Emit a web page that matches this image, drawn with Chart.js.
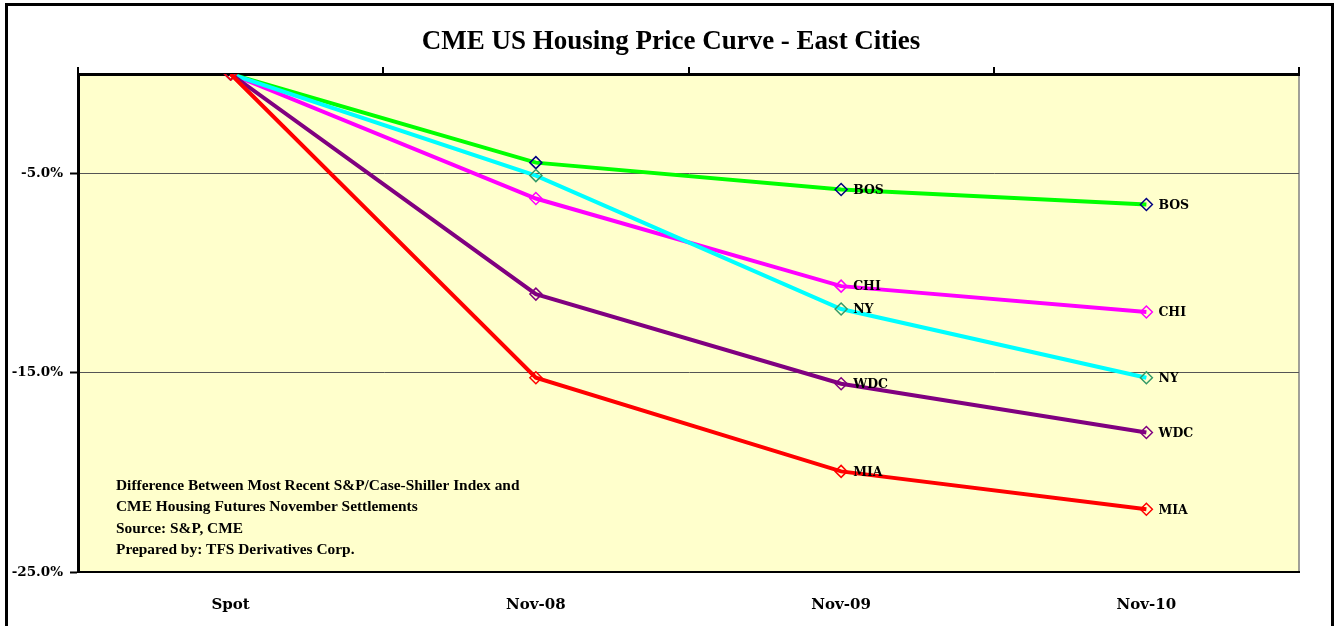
<!DOCTYPE html>
<html>
<head>
<meta charset="utf-8">
<script src="https://cdn.jsdelivr.net/npm/chart.js@4.4.1/dist/chart.umd.min.js"></script>
<style>
    html, body { margin: 0; padding: 0; background: #fff; }
    #wrap { position: relative; width: 1339px; height: 626px; }
    #frame { position: absolute; left: 5px; top: 3px; width: 1329px; height: 640px; border: 3px solid #000; box-sizing: border-box; pointer-events: none; }
</style>
</head>
<body>
<div id="wrap">
    <canvas id="chart" width="1339" height="626"></canvas>
    <div id="frame"></div>
</div>
<script>
// 차트 데이터
const categories = ['Spot', 'Nov-08', 'Nov-09', 'Nov-10'];
const bosValues = [0, -4.45, -5.8, -6.55];
const nyValues = [0, -5.1, -11.8, -15.25];
const chiValues = [0, -6.25, -10.65, -11.95];
const wdcValues = [0, -11.05, -15.55, -18.0];
const miaValues = [0, -15.25, -19.95, -21.85];
const yTicks = [-25, -15, -5];
const noteLines = [
    'Difference Between Most Recent S&P/Case-Shiller Index and',
    'CME Housing Futures November Settlements',
    'Source: S&P, CME',
    'Prepared by: TFS Derivatives Corp.'
];

const serif = '"Liberation Serif", "DejaVu Serif", serif';
const wideSerif = '"DejaVu Serif", "Liberation Serif", serif';

function makeSeries(label, data, lineColor, markerColor) {
    return {
        label: label,
        data: data,
        borderColor: lineColor,
        borderWidth: 4,
        tension: 0,
        pointStyle: 'rectRot',
        pointRadius: 6,
        pointBorderWidth: 1.5,
        pointBorderColor: markerColor,
        pointBackgroundColor: 'rgba(0,0,0,0)',
        fill: false
    };
}

// 배경, 제목, 라벨 그리기
const decorPlugin = {
    id: 'decor',
    beforeDraw(chart) {
        const { ctx, chartArea: a } = chart;
        ctx.save();
        ctx.fillStyle = '#FFFFCC';
        ctx.fillRect(a.left, a.top, a.right - a.left, a.bottom - a.top);
        ctx.strokeStyle = '#808080';
        ctx.lineWidth = 1.5;
        ctx.beginPath();
        ctx.moveTo(a.right, a.top);
        ctx.lineTo(a.right, a.bottom);
        ctx.stroke();
        ctx.restore();
    },
    afterDraw(chart) {
        const { ctx } = chart;
        ctx.save();
        ctx.fillStyle = '#000';
        ctx.textAlign = 'center';
        ctx.textBaseline = 'middle';
        ctx.font = 'bold 27px ' + serif;
        ctx.fillText('CME US Housing Price Curve - East Cities', 671, 42);

        // 주석 (가로로 살짝 늘림)
        ctx.textAlign = 'left';
        ctx.save();
        ctx.translate(116, 0);
        ctx.scale(1.1, 1);
        ctx.font = 'bold 14px ' + serif;
        noteLines.forEach((line, i) => {
            ctx.fillText(line, 0, 486 + i * 21.5);
        });
        ctx.restore();

        ctx.font = 'bold 12.5px ' + wideSerif;
        chart.data.datasets.forEach((ds, di) => {
            const meta = chart.getDatasetMeta(di);
            [2, 3].forEach(idx => {
                const pt = meta.data[idx];
                ctx.fillText(ds.label, pt.x + 12, pt.y + 1);
            });
        });
        ctx.restore();
    }
};

new Chart(document.getElementById('chart'), {
    type: 'line',
    data: {
        labels: categories,
        datasets: [
            makeSeries('MIA', miaValues, '#FF0000', '#FF0000'),
            makeSeries('WDC', wdcValues, '#800080', '#800080'),
            makeSeries('NY', nyValues, '#00FFFF', '#339966'),
            makeSeries('CHI', chiValues, '#FF00FF', '#FF00FF'),
            makeSeries('BOS', bosValues, '#00FF00', '#000080')
        ]
    },
    options: {
        responsive: false,
        animation: false,
        layout: { padding: { left: 0, right: 40, top: 66, bottom: 0 } },
        plugins: {
            legend: { display: false },
            title: { display: false },
            tooltip: { enabled: false }
        },
        scales: {
            x: {
                position: 'bottom',
                offset: true,
                grid: { display: false, drawTicks: false },
                border: { display: true, color: '#000', width: 2 },
                ticks: {
                    padding: 24,
                    color: '#000',
                    font: { family: wideSerif, size: 15, weight: 'bold' }
                },
                afterFit(scale) { scale.height = 54; }
            },
            x2: {
                position: 'top',
                type: 'category',
                labels: categories,
                offset: true,
                grid: {
                    offset: true,
                    drawOnChartArea: false,
                    drawTicks: true,
                    tickLength: 7,
                    color: '#000',
                    lineWidth: 2
                },
                border: { display: true, color: '#000', width: 3 },
                ticks: { display: false },
                afterFit(scale) { scale.height = 8; }
            },
            y: {
                min: -25,
                max: 0,
                afterBuildTicks(scale) {
                    scale.ticks = yTicks.map(v => ({ value: v }));
                },
                grid: {
                    color: '#555',
                    lineWidth: 1,
                    tickLength: 8,
                    tickColor: '#000',
                    tickWidth: 2
                },
                border: { display: true, color: '#000', width: 3 },
                ticks: {
                    padding: 7,
                    color: '#000',
                    font: { family: wideSerif, size: 13.5, weight: 'bold' },
                    callback: v => v.toFixed(1) + '%'
                },
                afterFit(scale) { scale.width = 78; }
            }
        }
    },
    plugins: [decorPlugin]
});
</script>
</body>
</html>
